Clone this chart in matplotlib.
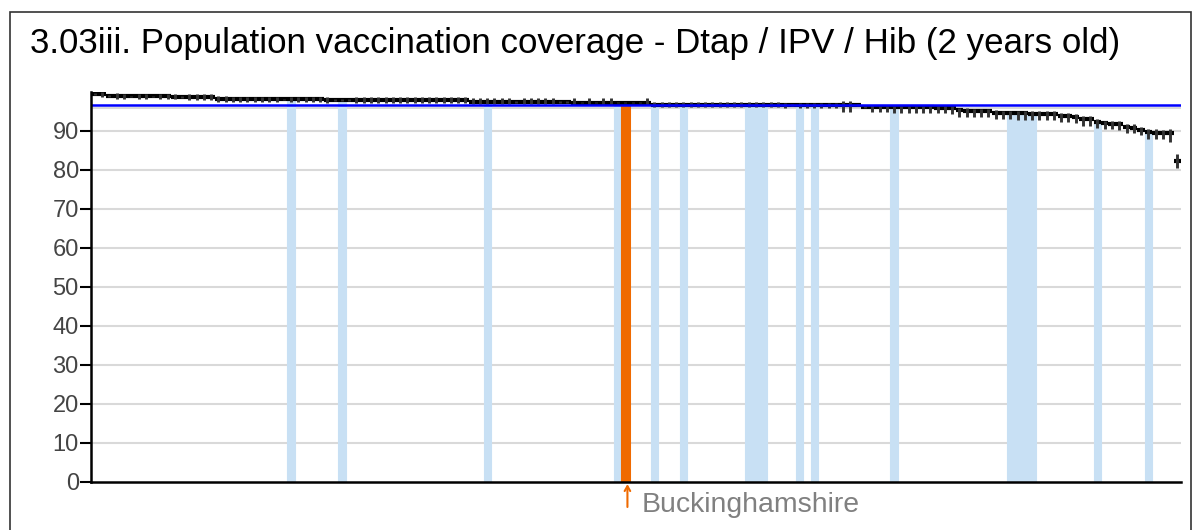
import matplotlib
matplotlib.use("Agg")
import matplotlib.pyplot as plt
from matplotlib.patches import Rectangle
import numpy as np

plt.rcParams['font.family'] = ['Liberation Sans', 'DejaVu Sans']

# ---------------- data ----------------
title = "3.03iii. Population vaccination coverage - Dtap / IPV / Hib (2 years old)"
selected_area = "Buckinghamshire"
selected_index = 73
england_value = 96.7
extra_gridline = 95.9
y_ticks = [0, 10, 20, 30, 40, 50, 60, 70, 80, 90]

# area values, sorted descending (150 upper-tier areas)
values = [
    99.5, 99.4, 98.9, 98.9, 98.8, 98.8, 98.8, 98.8, 98.8, 98.8,
    98.8, 98.7, 98.7, 98.7, 98.7, 98.7, 98.7, 98.1, 98.1, 98.0,
    98.0, 98.0, 98.0, 98.0, 98.0, 98.0, 98.0, 98.0, 98.0, 98.0,
    98.0, 98.0, 97.9, 97.9, 97.9, 97.9, 97.9, 97.9, 97.9, 97.9,
    97.9, 97.9, 97.9, 97.9, 97.9, 97.9, 97.9, 97.9, 97.9, 97.8,
    97.8, 97.8, 97.4, 97.3, 97.3, 97.3, 97.3, 97.3, 97.3, 97.3,
    97.3, 97.3, 97.3, 97.3, 97.3, 97.3, 97.2, 97.2, 97.2, 97.2,
    97.2, 97.2, 97.2, 97.2, 97.2, 97.2, 97.2, 96.7, 96.7, 96.7,
    96.7, 96.7, 96.7, 96.7, 96.7, 96.7, 96.7, 96.7, 96.7, 96.7,
    96.7, 96.7, 96.7, 96.7, 96.7, 96.6, 96.6, 96.6, 96.6, 96.6,
    96.6, 96.6, 96.6, 96.6, 96.6, 96.6, 96.1, 96.1, 96.0, 96.0,
    96.0, 96.0, 96.0, 96.0, 96.0, 96.0, 95.9, 95.9, 95.9, 95.2,
    95.1, 95.1, 95.0, 95.0, 94.5, 94.4, 94.4, 94.4, 94.4, 94.3,
    94.3, 94.3, 94.3, 93.8, 93.7, 93.6, 93.0, 92.9, 92.3, 91.9,
    91.8, 91.7, 91.0, 90.8, 90.2, 89.6, 89.5, 89.5, 89.4, 82.2,
]

ci_lower = [
    99.2, 98.5, 98.6, 98.0, 98.0, 98.5, 98.0, 98.0, 98.5, 98.0,
    98.0, 98.0, 98.4, 97.9, 97.9, 97.9, 97.9, 97.4, 97.4, 97.3,
    97.3, 97.3, 97.3, 97.3, 97.3, 97.3, 97.8, 97.3, 97.3, 97.3,
    97.3, 97.3, 97.2, 97.7, 97.7, 97.7, 97.2, 97.2, 97.2, 97.2,
    97.2, 97.2, 97.2, 97.2, 97.2, 97.2, 97.2, 97.2, 97.2, 97.1,
    97.1, 97.1, 96.9, 96.9, 96.9, 96.9, 96.9, 96.9, 97.1, 96.9,
    96.9, 96.9, 96.9, 96.9, 97.1, 97.1, 96.8, 97.0, 96.8, 97.0,
    96.8, 96.8, 97.0, 97.0, 97.0, 97.0, 96.8, 96.0, 96.0, 96.0,
    96.0, 96.0, 96.0, 96.0, 96.0, 96.0, 96.0, 96.0, 96.0, 96.0,
    96.0, 96.0, 96.0, 96.0, 96.0, 95.9, 96.4, 95.9, 95.9, 95.9,
    95.9, 95.9, 95.9, 94.9, 94.9, 96.4, 95.9, 94.8, 94.7, 94.7,
    94.6, 94.5, 94.5, 94.4, 94.4, 94.5, 94.4, 94.4, 94.3, 93.6,
    93.6, 93.5, 93.5, 93.4, 93.0, 92.9, 92.9, 92.8, 92.8, 92.8,
    92.7, 92.8, 92.7, 92.2, 92.1, 92.0, 91.3, 91.2, 90.6, 90.4,
    90.3, 90.2, 89.5, 89.4, 88.9, 87.9, 87.9, 87.8, 87.0, 80.5,
]

ci_upper = [
    99.7, 99.9, 99.1, 99.6, 99.5, 99.0, 99.5, 99.5, 99.0, 99.5,
    99.5, 99.4, 98.9, 99.4, 99.4, 99.4, 99.3, 98.8, 98.8, 98.7,
    98.7, 98.7, 98.7, 98.7, 98.7, 98.7, 98.2, 98.7, 98.7, 98.7,
    98.7, 98.7, 98.6, 98.1, 98.1, 98.1, 98.6, 98.6, 98.6, 98.6,
    98.6, 98.6, 98.6, 98.6, 98.6, 98.6, 98.6, 98.6, 98.6, 98.5,
    98.5, 98.5, 98.4, 98.4, 98.4, 98.4, 98.4, 98.4, 97.5, 98.4,
    98.4, 98.4, 98.4, 98.4, 97.5, 97.5, 98.3, 97.4, 98.3, 97.4,
    98.3, 98.3, 97.4, 97.4, 97.4, 97.4, 98.3, 97.3, 97.3, 97.3,
    97.3, 97.3, 97.3, 97.3, 97.3, 97.3, 97.3, 97.3, 97.3, 97.3,
    97.3, 97.3, 97.3, 97.3, 97.3, 97.2, 96.8, 97.2, 97.2, 97.2,
    97.2, 97.2, 97.2, 97.6, 97.6, 96.8, 96.3, 96.5, 96.4, 96.4,
    96.4, 96.4, 96.4, 96.4, 96.4, 96.4, 96.3, 96.3, 96.3, 95.7,
    95.7, 95.6, 95.6, 95.6, 95.2, 95.1, 95.1, 95.1, 95.1, 95.0,
    95.0, 95.0, 95.0, 94.4, 94.4, 94.3, 93.8, 93.7, 93.0, 92.6,
    92.5, 92.4, 91.8, 91.6, 91.0, 90.3, 90.3, 90.2, 90.3, 84.0,
]

# areas shown with light-blue bars
highlighted = [27, 34, 54, 72, 77, 81, 90, 91, 92, 97, 99, 110,
               126, 127, 128, 129, 138, 145]

# ---------------- styles ----------------
LIGHT_BLUE = '#c8e0f4'
ORANGE = '#ef6a00'
GRID = '#d9d9d9'

W, H = 1194, 530
fig = plt.figure(figsize=(W / 100, H / 100), dpi=100)
fig.patch.set_facecolor('white')

left_px, right_px, bottom_px, top_px = 91.3, 1181, 482, 92.4
ax = fig.add_axes([left_px / W, (H - bottom_px) / H,
                   (right_px - left_px) / W, (bottom_px - top_px) / H])

n = len(values)
x = np.arange(n)
bar_colors = []
edge_widths = []
for i in range(n):
    if i == selected_index:
        bar_colors.append(ORANGE)
        edge_widths.append(2.2)
    elif i in highlighted:
        bar_colors.append(LIGHT_BLUE)
        edge_widths.append(0.8)
    else:
        bar_colors.append((1, 1, 1, 0))
        edge_widths.append(0)

ax.set_xlim(-0.5, n - 0.5)
ax.set_ylim(0, 99.8)

# gridlines
for t in y_ticks[1:]:
    ax.axhline(t, color=GRID, lw=1.5, zorder=1)
ax.axhline(extra_gridline, color=GRID, lw=1.5, zorder=1)

ax.bar(x, values, width=1.0, color=bar_colors, edgecolor=bar_colors,
       linewidth=edge_widths, zorder=2)
ax.hlines(values, x - 0.5, x + 0.5, colors='black', lw=3.0, zorder=3)
ax.vlines(x, ci_lower, ci_upper, colors='#333333', lw=2.1, zorder=4)
ax.axhline(england_value, color='#0000ff', lw=1.8, zorder=5)

for s in ['top', 'right']:
    ax.spines[s].set_visible(False)
for s in ['left', 'bottom']:
    ax.spines[s].set_linewidth(1.8)
    ax.spines[s].set_color('black')
    ax.spines[s].set_zorder(6)

ax.set_yticks(y_ticks)
ax.set_yticklabels([str(t) for t in y_ticks])
ax.tick_params(axis='y', direction='out', length=8, width=1.5, color='black',
               labelsize=17, labelcolor='#444444', pad=1)
ax.set_xticks([])

# selected-area marker
ax.annotate('', xy=(selected_index + 0.3, 0), xycoords=('data', 'axes fraction'),
            xytext=(0, -18), textcoords='offset points',
            arrowprops=dict(arrowstyle='->,head_length=0.35,head_width=0.2',
                            color=ORANGE, lw=1.5, shrinkA=0, shrinkB=1.5))
ax.annotate(selected_area, xy=(selected_index, 0), xycoords=('data', 'axes fraction'),
            xytext=(11.5, -21.6), textcoords='offset points',
            ha='left', va='baseline', fontsize=20.4, color='#808080')

# title and frame
fig.text(30 / W, 1 - 53 / H, title, fontsize=25.1, color='black', va='baseline', ha='left')
fig.add_artist(Rectangle((10 / W, -0.1), (1191 - 10) / W, (H - 12) / H + 0.1,
                         transform=fig.transFigure, fill=False,
                         edgecolor='#333333', lw=1.2))

fig.savefig('out.png', dpi=100)
